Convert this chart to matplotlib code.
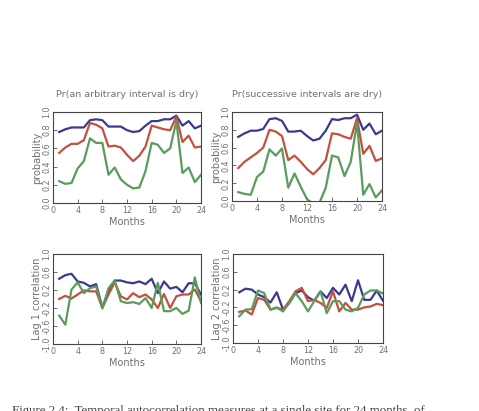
import matplotlib
matplotlib.use('Agg')
import matplotlib.pyplot as plt
import numpy as np

months = np.arange(1, 25)

# Pr(an arbitrary interval is dry)
arb_blue = [0.78, 0.81, 0.83, 0.83, 0.83, 0.91, 0.92, 0.91, 0.84, 0.84, 0.84, 0.80,
            0.78, 0.79, 0.85, 0.90, 0.90, 0.92, 0.92, 0.96, 0.85, 0.90, 0.82, 0.85]
arb_red = [0.55, 0.61, 0.65, 0.65, 0.69, 0.88, 0.86, 0.82, 0.62, 0.63, 0.61, 0.53,
           0.46, 0.52, 0.62, 0.85, 0.83, 0.81, 0.80, 0.95, 0.67, 0.74, 0.61, 0.62]
arb_green = [0.24, 0.21, 0.22, 0.38, 0.46, 0.71, 0.66, 0.66, 0.31, 0.39, 0.26, 0.20,
             0.16, 0.17, 0.35, 0.66, 0.64, 0.55, 0.60, 0.90, 0.33, 0.39, 0.23, 0.31]

# Pr(successive intervals are dry)
suc_blue = [0.72, 0.76, 0.79, 0.79, 0.81, 0.92, 0.93, 0.90, 0.78, 0.78, 0.79, 0.73,
            0.68, 0.70, 0.79, 0.92, 0.91, 0.93, 0.93, 0.97, 0.80, 0.87, 0.75, 0.79]
suc_red = [0.37, 0.44, 0.49, 0.54, 0.60, 0.80, 0.78, 0.73, 0.46, 0.51, 0.44, 0.36,
           0.30, 0.37, 0.46, 0.76, 0.75, 0.72, 0.70, 0.93, 0.53, 0.62, 0.45, 0.48]
suc_green = [0.10, 0.08, 0.07, 0.27, 0.33, 0.58, 0.51, 0.59, 0.15, 0.31, 0.16, 0.02,
             -0.03, -0.02, 0.15, 0.51, 0.49, 0.28, 0.44, 0.88, 0.07, 0.19, 0.04, 0.12]

# Lag 1 correlation
lag1_blue = [0.45, 0.53, 0.56, 0.39, 0.36, 0.28, 0.33, -0.19, 0.17, 0.41, 0.41, 0.37,
             0.35, 0.39, 0.33, 0.45, 0.13, 0.39, 0.23, 0.27, 0.15, 0.35, 0.35, 0.10]
lag1_red = [0.00, 0.07, 0.01, 0.10, 0.19, 0.17, 0.17, -0.20, 0.10, 0.37, 0.06, -0.01,
            0.13, 0.04, 0.10, -0.01, -0.20, 0.11, -0.20, 0.06, 0.10, 0.10, 0.21, -0.05]
lag1_green = [-0.37, -0.57, 0.21, 0.37, 0.13, 0.24, 0.28, -0.21, 0.24, 0.41, -0.05, -0.09,
              -0.07, -0.11, 0.02, -0.20, 0.36, -0.27, -0.27, -0.20, -0.33, -0.26, 0.48, -0.09]

# Lag 2 correlation
lag2_blue = [0.14, 0.22, 0.20, 0.09, 0.03, -0.09, 0.14, -0.25, -0.10, 0.12, 0.18, 0.03,
             -0.05, 0.16, 0.01, 0.24, 0.09, 0.31, -0.06, 0.41, -0.03, -0.03, 0.18, -0.05]
lag2_red = [-0.30, -0.27, -0.36, 0.01, -0.03, -0.25, -0.21, -0.25, -0.06, 0.16, 0.24, -0.06,
            -0.03, -0.10, -0.21, 0.16, -0.29, -0.10, -0.25, -0.25, -0.20, -0.18, -0.12, -0.15]
lag2_green = [-0.40, -0.25, -0.24, 0.18, 0.12, -0.25, -0.20, -0.29, -0.10, 0.12, -0.06, -0.29,
              -0.06, 0.16, -0.33, -0.06, -0.06, -0.25, -0.29, -0.21, 0.09, 0.18, 0.18, 0.11]

xticks = [0, 4, 8, 12, 16, 20, 24]
prob_ticks = [0.0, 0.2, 0.4, 0.6, 0.8, 1.0]
corr_ticks = [-1.0, -0.6, -0.2, 0.2, 0.6, 1.0]

BLUE = '#3a3a8e'
RED = '#c4503e'
GREEN = '#5a9c5c'
TXT = '#707070'

fig = plt.figure(figsize=(4.79, 4.11), dpi=100)
fig.patch.set_facecolor('white')

W, H = 479.0, 411.0


def make_axes(left, top, right, bottom):
    return fig.add_axes([left / W, 1 - bottom / H, (right - left) / W, (bottom - top) / H])


def style(ax, ylim, yticks, ylabel):
    ax.set_xlim(0, 24)
    ax.set_ylim(*ylim)
    ax.set_xticks(xticks)
    ax.set_yticks(yticks)
    ax.set_xticklabels([str(t) for t in xticks], fontsize=5.8, color=TXT)
    ax.set_yticklabels(['%.1f' % t for t in yticks], fontsize=5.8, color=TXT,
                       rotation=90, va='center')
    ax.tick_params(direction='in', length=3, width=0.6, color='#555555')
    ax.tick_params(axis='x', pad=2)
    ax.tick_params(axis='y', pad=1.2)
    ax.set_xlabel('Months', fontsize=7, color=TXT, labelpad=1.5)
    ax.set_ylabel(ylabel, fontsize=7, color=TXT, labelpad=0.5)
    for s in ax.spines.values():
        s.set_color('#444444')
        s.set_linewidth(0.8)


panels = [
    ((53, 112, 201, 203), (0, 1), prob_ticks, 'probability',
     'Pr(an arbitrary interval is dry)', (arb_blue, arb_red, arb_green)),
    ((232, 112, 382, 201), (0, 1), prob_ticks, 'probability',
     'Pr(successive intervals are dry)', (suc_blue, suc_red, suc_green)),
    ((53, 254, 201, 344), (-1, 1), corr_ticks, 'Lag 1 correlation',
     None, (lag1_blue, lag1_red, lag1_green)),
    ((233, 254, 383, 343), (-1, 1), corr_ticks, 'Lag 2 correlation',
     None, (lag2_blue, lag2_red, lag2_green)),
]

for box, ylim, yt, ylab, title, series in panels:
    ax = make_axes(*box)
    for vals, c in zip(series, (BLUE, RED, GREEN)):
        ax.plot(months, vals, color=c, linewidth=1.6, solid_joinstyle='round')
    style(ax, ylim, yt, ylab)
    if title:
        ax.set_title(title, fontsize=6.8, color=TXT, pad=11)

fig.text(12 / W, 1 - 405 / H,
         'Figure 2.4:  Temporal autocorrelation measures at a single site for 24 months  of',
         fontsize=9.3, family='Liberation Serif', color='#444444', va='top', ha='left')

fig.savefig('out.png', dpi=100, facecolor='white')
